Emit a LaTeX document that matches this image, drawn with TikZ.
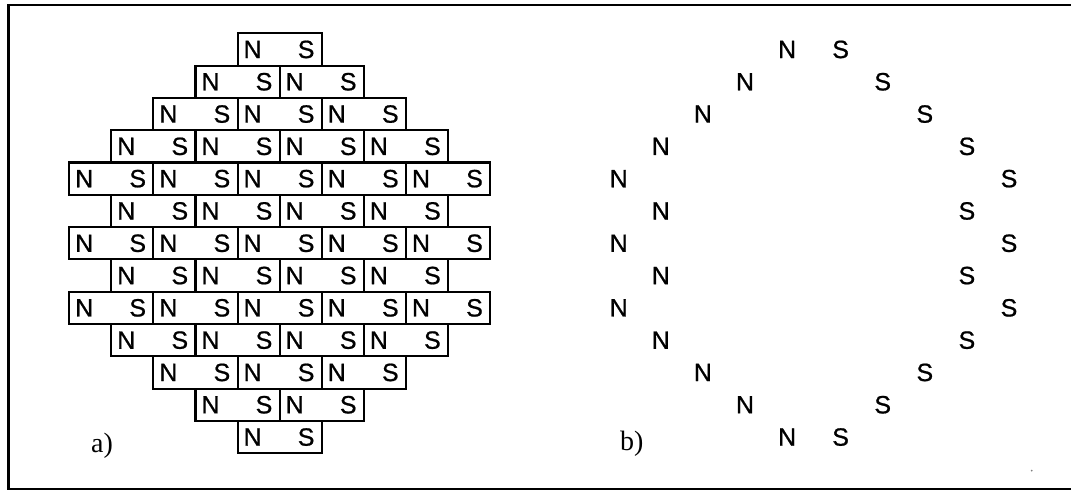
\documentclass[tikz,border=0pt]{standalone}
\usepackage{fontspec}
\setmainfont{Liberation Serif}
\newfontfamily\polefont[FakeBold=0.8]{Liberation Sans}
\begin{document}
\begin{tikzpicture}[x=1pt,y=-1pt,
  magnet/.style={draw, line width=2.1pt, minimum width=84.2pt, minimum height=32.3pt,
                 inner sep=0pt, outer sep=0pt},
  pole/.style={font=\polefont\fontsize{25}{25}\selectfont, inner sep=0pt},
  tag/.style={font=\fontsize{28}{28}\selectfont, inner sep=0pt, anchor=base west},
  frame/.style={line width=2.4pt}]
\useasboundingbox (0,0) rectangle (1071,492);

% outer frame (open on the right side)
\coordinate (f1) at (1071,5);
\coordinate (f2) at (8.5,5);
\coordinate (f3) at (8.5,489);
\coordinate (f4) at (1071,489);
\draw[frame] (f1) -- (f2) -- (f3) -- (f4);

% a) brick stack of bar magnets, rows of 1,2,...,5,...,2,1 magnets
\foreach \cnt [count=\r] in {1,2,3,4,5,4,5,4,5,4,3,2,1} {
  \foreach \i in {1,...,\cnt} {
    \node[magnet] (m-\r-\i) at ({279.7 + (\i - (\cnt+1)/2)*84.2}, {33.3 + (\r-0.5)*32.3}) {};
    \node[pole] (n-\r-\i) at ([xshift=15pt]m-\r-\i.west) {N};
    \node[pole] (s-\r-\i) at ([xshift=-15.7pt]m-\r-\i.east) {S};
  }
  % b) only the outermost poles of each row remain
  \node[pole] (bn-\r) at ([xshift=534.5pt]n-\r-1) {N};
  \node[pole] (bs-\r) at ([xshift=534.5pt]s-\r-\cnt) {S};
}

\node[tag] (ta) at (91,452) {a)};
\node[tag] (tb) at (620,450) {b)};

\fill[gray] (1031.7,470.7) circle (1pt);
\end{tikzpicture}
\end{document}
